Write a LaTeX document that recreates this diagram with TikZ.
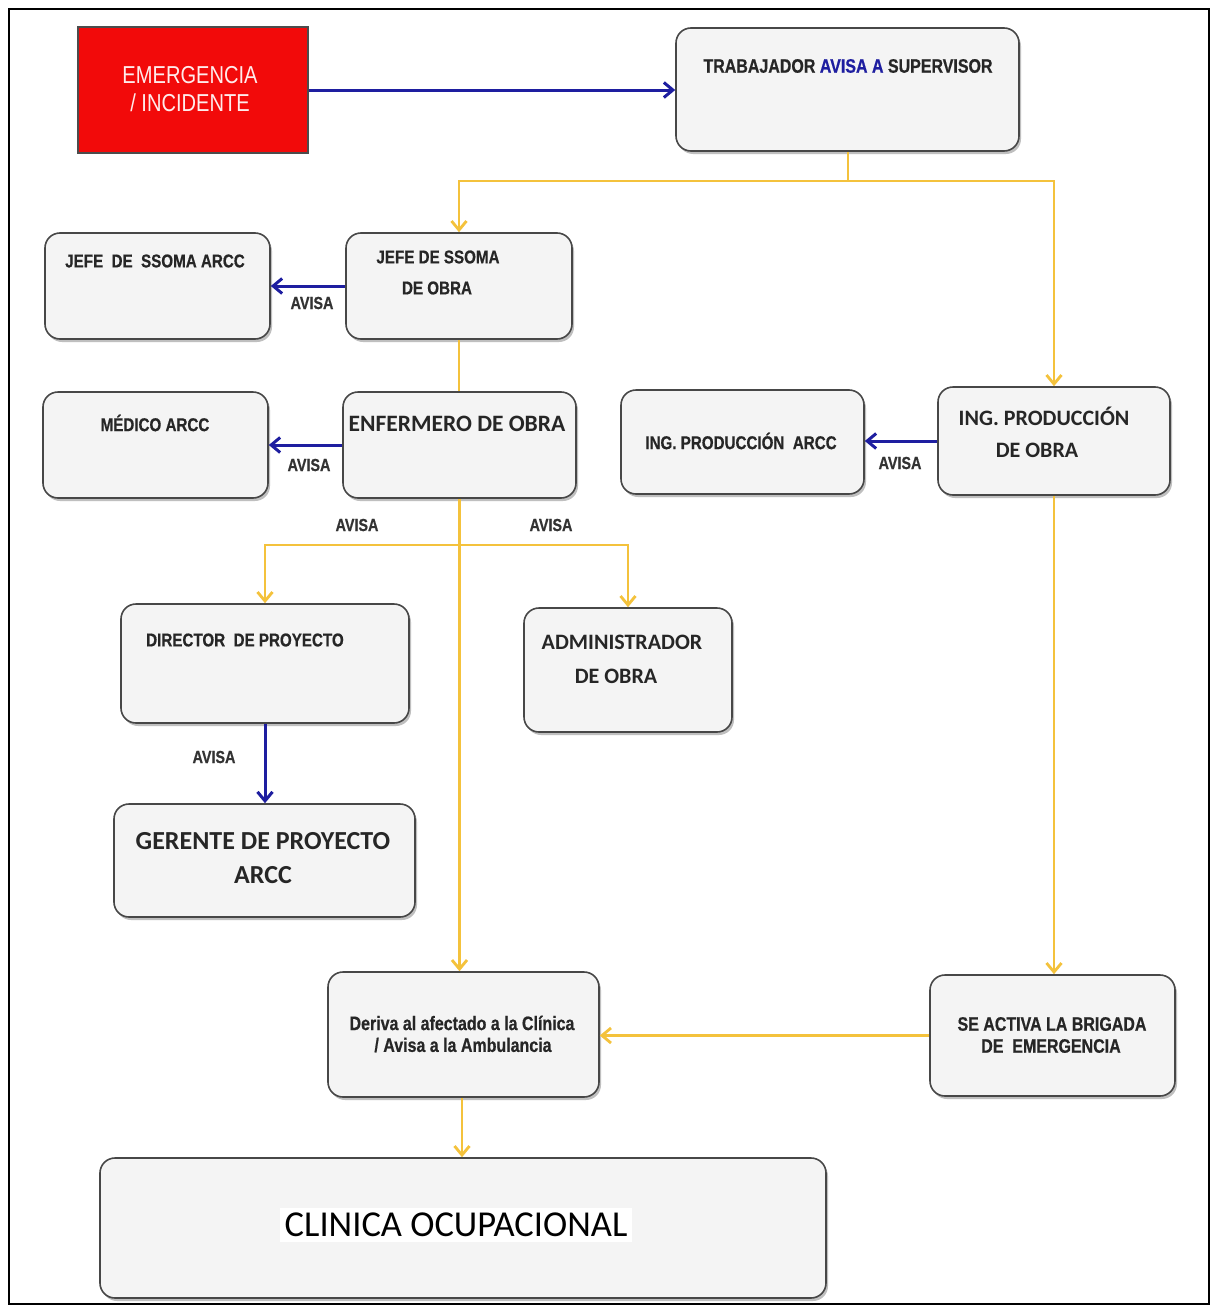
\documentclass[tikz,border=0pt]{standalone}
\usepackage{fontspec}
\setmainfont{Liberation Sans}[FakeStretch=0.82, BoldFeatures={FakeBold=0.6}]
\newfontfamily\calib{Carlito}
\usetikzlibrary{arrows.meta,shadows}
\definecolor{gold}{HTML}{F4C23C}
\definecolor{avblue}{HTML}{1E1EA0}
\definecolor{emred}{HTML}{F20A0A}
\begin{document}
\begin{tikzpicture}[x=1pt,y=-1pt,
  box/.style={draw=black!72, line width=1.6pt, rounded corners=15pt, fill=gray!9,
    drop shadow={shadow xshift=2pt, shadow yshift=-3pt, fill=black!45, opacity=.55}},
  tn/.style={font=\bfseries\fontsize{18.5}{22}\selectfont, text=black!85, inner sep=0pt},
  tc/.style={font=\calib\bfseries\fontsize{22}{26}\selectfont, text=black!85, inner sep=0pt},
  lab/.style={font=\bfseries\fontsize{17.5}{20}\selectfont, text=black!80, inner sep=0pt},
  ylw/.style={draw=gold, line width=2.8pt},
  ya/.style={ylw, -{Straight Barb[length=9pt,width=15pt]}},
  ba/.style={draw=avblue, line width=3pt, -{Straight Barb[length=9pt,width=15pt]}}
]
\useasboundingbox (0,0) rectangle (1211,1306);
\fill[white] (0,0) rectangle (1211,1306);
\draw[line width=2.6pt, black] (9,9) rectangle (1209,1304);

% boxes
\node[draw=black!70, line width=1.2pt, fill=emred, minimum width=230pt, minimum height=126pt] (emer) at (193,90) {};
\node[box, minimum width=343pt, minimum height=123pt] (trab) at (847.5,89.5) {};
\node[box, minimum width=225pt, minimum height=106pt] (jefeA) at (157.5,286) {};
\node[box, minimum width=226pt, minimum height=106pt] (jefeO) at (459,286) {};
\node[box, minimum width=225pt, minimum height=106pt] (medico) at (155.5,445) {};
\node[box, minimum width=233pt, minimum height=106pt] (enfer) at (459.5,445) {};
\node[box, minimum width=243pt, minimum height=104pt] (ingA) at (742.5,442) {};
\node[box, minimum width=232pt, minimum height=108pt] (ingO) at (1054,441) {};
\node[box, minimum width=288pt, minimum height=119pt] (dir) at (265,663.5) {};
\node[box, minimum width=208pt, minimum height=124pt] (admin) at (628,670) {};
\node[box, minimum width=301pt, minimum height=113pt] (ger) at (264.5,860.5) {};
\node[box, minimum width=271pt, minimum height=125pt] (deriva) at (463.5,1034.5) {};
\node[box, minimum width=245pt, minimum height=121pt] (brig) at (1052.5,1035.5) {};
\node[box, minimum width=726pt, minimum height=140pt] (clin) at (463,1228) {};

% texts
\node[inner sep=0pt, text=white!92!red, font=\fontsize{24.5}{28}\selectfont, align=center] (emerT) at (190,89) {EMERGENCIA\\/ INCIDENTE};
\node[tn, font=\bfseries\fontsize{19.5}{22}\selectfont] (trabT) at (848,66) {TRABAJADOR \textcolor{avblue}{AVISA A} SUPERVISOR};
\node[tn] (jefeAT) at (155,261) {JEFE~ DE~ SSOMA ARCC};
\node[tn] (jefeOT1) at (438,257) {JEFE DE SSOMA};
\node[tn] (jefeOT2) at (437,288) {DE OBRA};
\node[tn] (medicoT) at (155,423) {MÉDICO ARCC};
\node[tc, font=\calib\bfseries\fontsize{23.5}{26}\selectfont] (enferT) at (457,424) {ENFERMERO DE OBRA};
\node[tn] (ingAT) at (741,441) {ING. PRODUCCIÓN~ ARCC};
\node[tc] (ingOT1) at (1044,416) {ING. PRODUCCIÓN};
\node[tc] (ingOT2) at (1037,450) {DE OBRA};
\node[tn] (dirT) at (245,640) {DIRECTOR~ DE PROYECTO};
\node[tc] (adminT1) at (622,642) {ADMINISTRADOR};
\node[tc] (adminT2) at (616,676) {DE OBRA};
\node[tc, font=\calib\bfseries\fontsize{26}{30}\selectfont] (gerT1) at (263,841) {GERENTE DE PROYECTO};
\node[tc, font=\calib\bfseries\fontsize{26}{30}\selectfont] (gerT2) at (263,875) {ARCC};
\node[tn, font=\bfseries\fontsize{19.5}{22}\selectfont] (derivaT1) at (462,1023) {Deriva al afectado a la Clínica};
\node[tn, font=\bfseries\fontsize{19.5}{22}\selectfont] (derivaT2) at (463,1045) {/ Avisa a la Ambulancia};
\node[tn, font=\bfseries\fontsize{19.5}{22}\selectfont] (brigT1) at (1052,1024) {SE ACTIVA LA BRIGADA};
\node[tn, font=\bfseries\fontsize{19.5}{22}\selectfont] (brigT2) at (1051,1046) {DE~ EMERGENCIA};
\node[fill=white, inner xsep=5pt, inner ysep=5pt, font=\calib\fontsize{36.5}{40}\selectfont, text=black] (clinT) at (456,1225) {CLINICA OCUPACIONAL};

% AVISA labels
\node[lab] (av1) at (312,303) {AVISA};
\node[lab] (av2) at (309,465) {AVISA};
\node[lab] (av3) at (900,463) {AVISA};
\node[lab] (av4) at (357,525) {AVISA};
\node[lab] (av5) at (551,525) {AVISA};
\node[lab] (av6) at (214,757) {AVISA};

% connectors
\draw[ba] (emer.east) -- (trab.west |- emer.east);
\coordinate (s1) at (848,181);
\draw[ylw] (trab.south -| s1) -- (s1);
\draw[ya] (s1) -| (jefeO.north);
\draw[ya] (s1) -| (ingO.north);
\draw[ba] (jefeO.west) -- (jefeA.east);
\draw[ylw] (jefeO.south) -- (enfer.north -| jefeO.south);
\draw[ba] (enfer.west) -- (medico.east |- enfer.west);
\draw[ba] (ingO.west) -- (ingA.east |- ingO.west);
\draw[ya] (enfer.south) -- (deriva.north -| enfer.south);
\coordinate (s2) at (459.5,545);
\draw[ya] (s2) -| (dir.north);
\draw[ya] (s2) -| (admin.north);
\draw[ba] (dir.south) -- (ger.north -| dir.south);
\draw[ya] (ingO.south) -- (brig.north -| ingO.south);
\draw[ya] (brig.west) -- (deriva.east |- brig.west);
\draw[ya] (deriva.south -| 462,0) -- (clin.north -| 462,0);
\end{tikzpicture}
\end{document}
